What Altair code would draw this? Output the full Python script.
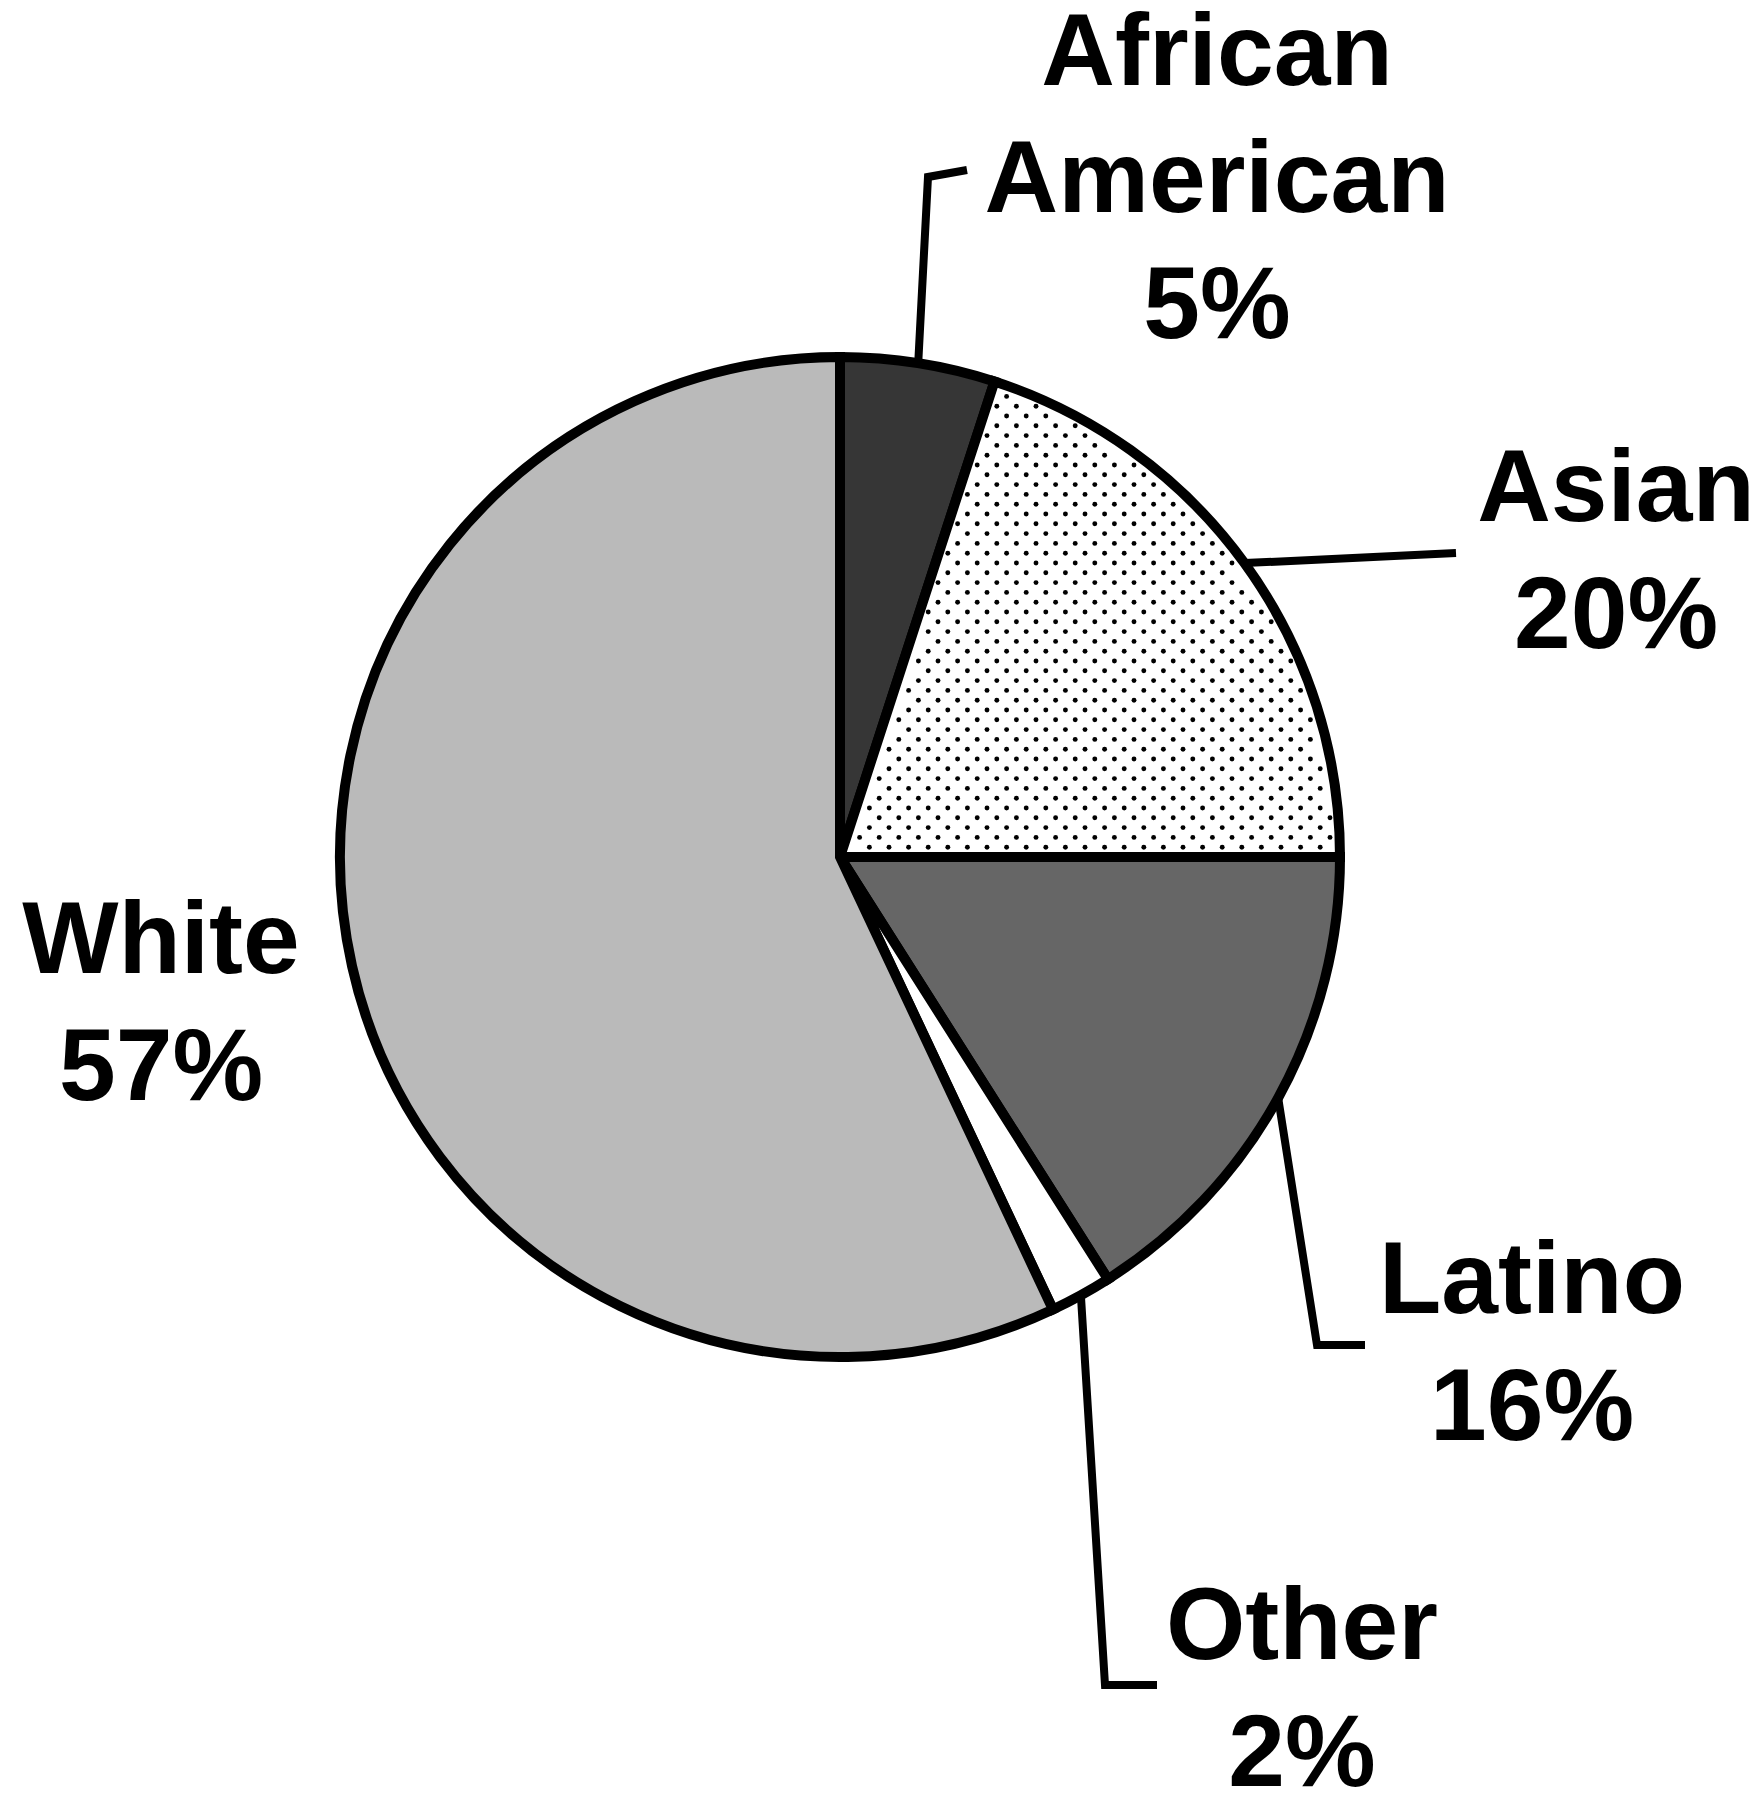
import math
import altair as alt
import pandas as pd

# ---- data ----
categories = ["African American", "Asian", "Latino", "Other", "White"]
values = [5, 20, 16, 2, 57]

# ---- style ----
fills = ["#363636", "#ffffff", "#666666", "#ffffff", "#bababa"]
R = 500                      # pie radius in px
W, H = 1664, 1698            # view size; pie centred in the view
PAD = {"left": 0, "top": 0, "right": 84, "bottom": 86}
FONT = "Liberation Sans"
FSIZE = 102
LINE_H = 126.5

# label anchor (center x, first baseline) as px offsets from pie centre
label_pos = {
    "African American": (377, -772),
    "Asian": (776, -336),
    "Latino": (692, 456),
    "Other": (462, 802),
    "White": (-679, 116),
}
# leader points after the start on the rim (px offsets from pie centre)
leader_pts = {
    "African American": [(88, -680), (127, -687)],
    "Asian": [(616, -304)],
    "Latino": [(477, 488), (525, 488)],
    "Other": [(265, 828), (317, 828)],
}

total = sum(values)
spans = []
acc = 0
for v in values:
    spans.append((acc / total * 2 * math.pi, (acc + v) / total * 2 * math.pi))
    acc += v

pie_df = pd.DataFrame({"category": categories, "value": values,
                       "order": list(range(len(categories)))})

xs = alt.Scale(domain=[-W / 2 / R, W / 2 / R], range=[0, W], nice=False, zero=False)
ys = alt.Scale(domain=[-H / 2 / R, H / 2 / R], range=[H, 0], nice=False, zero=False)

pie = alt.Chart(pie_df).mark_arc(
    outerRadius=R, stroke="black", strokeWidth=10, strokeJoin="miter"
).encode(
    theta=alt.Theta("value:Q", stack=True),
    order=alt.Order("order:Q"),
    color=alt.Color("category:N", scale=alt.Scale(domain=categories, range=fills), legend=None),
)

# ---- stipple texture for the Asian slice ----
a0, a1 = spans[categories.index("Asian")]
sp = 9.8 / R
ncols, nrows = 28, 56
m = 8.0 / R
rmax = (R - 8.0) / R
dots = alt.Chart(alt.sequence(0, ncols * nrows, as_="i")).transform_calculate(
    row=f"floor(datum.i / {ncols})",
    col=f"datum.i % {ncols}",
).transform_calculate(
    px=f"(2 * datum.col + (datum.row % 2)) * {sp}",
    py=f"datum.row * {sp} - {2 * sp}",
).transform_calculate(
    rr="sqrt(datum.px * datum.px + datum.py * datum.py)",
    ang="atan2(datum.px, datum.py)",
).transform_filter(
    f"datum.rr < {rmax} && datum.rr * sin(datum.ang - {a0}) > {m} && datum.rr * sin({a1} - datum.ang) > {m}"
).mark_circle(size=24, color="black", opacity=1).encode(
    x=alt.X("px:Q", scale=xs, axis=None),
    y=alt.Y("py:Q", scale=ys, axis=None),
)

# ---- leader lines ----
rows = []
for cat, (s0, s1) in zip(categories, spans):
    if cat not in leader_pts:
        continue
    mid = (s0 + s1) / 2
    rows.append({"category": cat, "seq": 0, "x": math.sin(mid), "y": math.cos(mid)})
    for k, (dx, dy) in enumerate(leader_pts[cat]):
        rows.append({"category": cat, "seq": k + 1, "x": dx / R, "y": -dy / R})
leader_df = pd.DataFrame(rows)

leaders = alt.Chart(leader_df).mark_line(
    color="black", strokeWidth=8, strokeJoin="miter", strokeCap="butt"
).encode(
    x=alt.X("x:Q", scale=xs, axis=None),
    y=alt.Y("y:Q", scale=ys, axis=None),
    detail="category:N",
    order="seq:Q",
)

# ---- labels ----
lrows = []
for cat, v in zip(categories, values):
    cx, by = label_pos[cat]
    lines = cat.split(" ") + [f"{v}%"]
    for j, t in enumerate(lines):
        lrows.append({"text": t, "x": cx / R, "y": -(by + j * LINE_H) / R})
label_df = pd.DataFrame(lrows)

labels = alt.Chart(label_df).mark_text(
    font=FONT, fontWeight="bold", fontSize=FSIZE, align="center",
    baseline="alphabetic", color="black"
).encode(
    x=alt.X("x:Q", scale=xs, axis=None),
    y=alt.Y("y:Q", scale=ys, axis=None),
    text="text:N",
)

chart = alt.layer(pie, dots, leaders, labels).properties(
    width=W, height=H,
    autosize=alt.AutoSizeParams(type="none"),
    padding=PAD,
    background="white",
).configure_view(stroke=None)

chart.save("out.html", embed_options={"renderer": "svg", "actions": False})
